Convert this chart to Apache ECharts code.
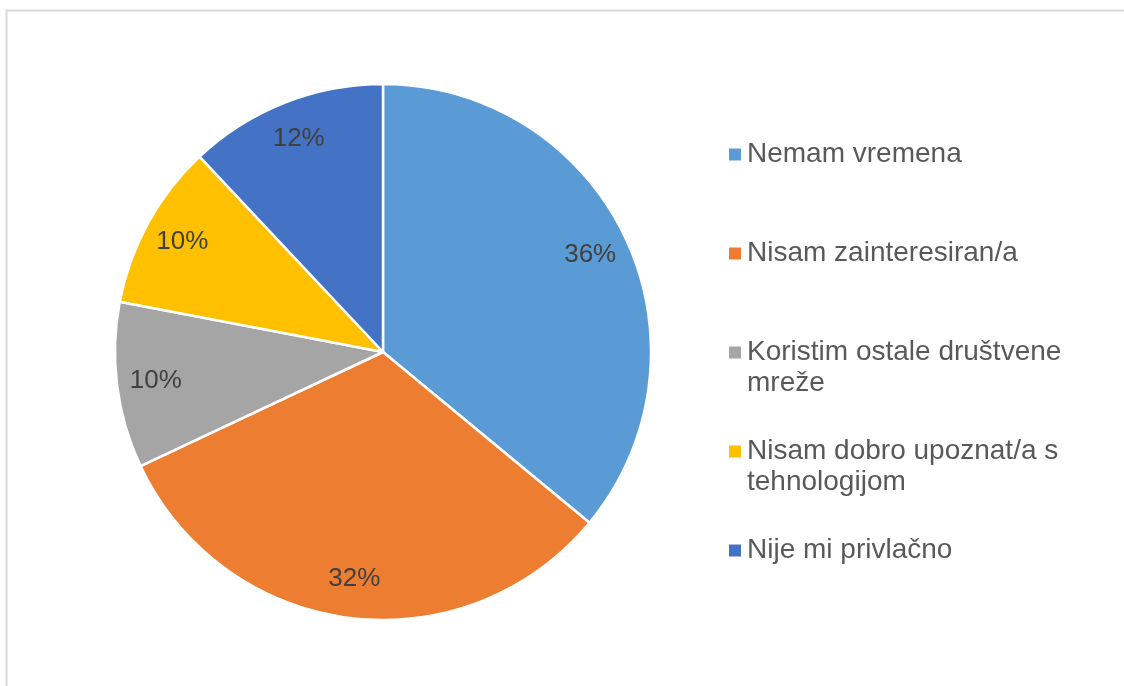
<!DOCTYPE html>
<html>
<head>
<meta charset="utf-8">
<script src="https://cdn.jsdelivr.net/npm/echarts@6/dist/echarts.min.js"></script>
<style>
html,body{margin:0;padding:0;background:#fff;}
#chart{width:1124px;height:686px;}
</style>
</head>
<body>
<div id="chart"></div>
<script>
const categories = ['Nemam vremena', 'Nisam zainteresiran/a', 'Koristim ostale društvene mreže', 'Nisam dobro upoznat/a s tehnologijom', 'Nije mi privlačno'];
const legendLabels = ['Nemam vremena', 'Nisam zainteresiran/a', 'Koristim ostale društvene\nmreže', 'Nisam dobro upoznat/a s\ntehnologijom', 'Nije mi privlačno'];
const values = [36, 32, 10, 10, 12];
const colors = ['#5B9BD5', '#ED7D31', '#A5A5A5', '#FFC000', '#4472C4'];

const chart = echarts.init(document.getElementById('chart'), null, {renderer: 'canvas'});
const LH = 31;
const data = categories.map((c, i) => ({name: c, value: values[i], itemStyle: {color: colors[i]}}));
const labelData = categories.map((c, i) => ({name: c, value: values[i]}));

// pad every legend label to three lines so the icon lines up with the first text line
function legendText(name) {
  const t = legendLabels[categories.indexOf(name)];
  return t.indexOf('\n') >= 0 ? ' \n' + t : ' \n' + t + '\n ';
}

chart.setOption({
  animation: false,
  color: colors,
  graphic: [{
    type: 'rect',
    shape: {x: 6.5, y: 10.5, width: 1300, height: 900},
    style: {fill: 'none', stroke: '#d9d9d9', lineWidth: 2},
    silent: true
  }],
  legend: {
    orient: 'vertical',
    left: 727,
    top: 108,
    padding: 0,
    itemWidth: 14,
    itemHeight: 14,
    itemGap: 6,
    icon: 'rect',
    selectedMode: false,
    data: categories,
    formatter: legendText,
    textStyle: {
      fontFamily: 'Liberation Sans, Arial, sans-serif',
      fontSize: 28,
      lineHeight: LH,
      color: '#595959'
    }
  },
  series: [{
    type: 'pie',
    center: [383, 352],
    radius: [0, 268],
    startAngle: 90,
    clockwise: true,
    data: data,
    itemStyle: {borderColor: '#fff', borderWidth: 2.5},
    label: {show: false},
    labelLine: {show: false},
    emphasis: {disabled: true}
  }, {
    type: 'pie',
    center: [383, 352],
    radius: [184, 268],
    startAngle: 90,
    clockwise: true,
    silent: true,
    legendHoverLink: false,
    data: labelData,
    itemStyle: {color: 'rgba(0,0,0,0)', borderWidth: 0},
    label: {
      show: true,
      position: 'inside',
      formatter: p => p.value + '%',
      fontFamily: 'Liberation Sans, Arial, sans-serif',
      fontSize: 26,
      color: '#404040'
    },
    labelLine: {show: false},
    emphasis: {disabled: true}
  }]
});
</script>
</body>
</html>
